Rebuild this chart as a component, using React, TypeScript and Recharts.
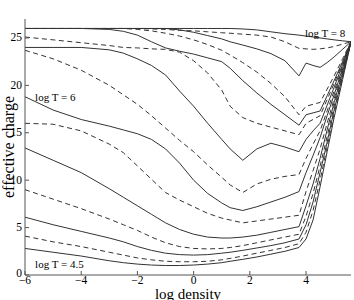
import { LineChart, Line, XAxis, YAxis, ReferenceDot } from 'recharts';

const FONT = '"Liberation Serif", "Times New Roman", serif';
const INK = '#333';
const FRAME = '#555';

// log density sample points
const logDensity = [-6, -5, -4, -3, -2.5, -2, -1.5, -1, -0.5, 0, 0.5, 1, 1.3, 1.75, 2.25, 2.75, 3.25, 3.75, 4, 4.25, 4.5, 4.75, 5, 5.3, 5.6];

// effective charge for each log T
const t45 = [2.8, 2.4, 2.0, 1.5, 1.3, 1.15, 1.05, 1.0, 1.0, 1.05, 1.15, 1.3, 1.45, 1.65, 1.9, 2.2, 2.5, 2.9, 3.8, 5.8, 9.3, 13.0, 16.6, 20.6, 24.6];
const t475 = [4.1, 3.5, 3.0, 2.4, 2.1, 1.8, 1.6, 1.45, 1.4, 1.4, 1.45, 1.6, 1.75, 2.0, 2.3, 2.6, 2.9, 3.3, 4.5, 6.8, 10.0, 13.5, 17.0, 20.8, 24.6];
const t50 = [6.1, 5.3, 4.6, 3.9, 3.5, 3.0, 2.6, 2.3, 2.15, 2.1, 2.15, 2.3, 2.4, 2.6, 2.85, 3.1, 3.4, 3.8, 5.3, 7.7, 10.8, 14.0, 17.4, 21.0, 24.6];
const t525 = [9.0, 8.0, 7.0, 5.9, 5.3, 4.7, 4.0, 3.4, 3.0, 2.8, 2.75, 2.8, 2.9, 3.1, 3.4, 3.7, 4.0, 4.3, 6.2, 8.6, 11.5, 14.6, 17.8, 21.2, 24.6];
const t55 = [13.4, 12.1, 10.8, 9.1, 8.2, 7.3, 6.4, 5.5, 4.8, 4.3, 4.0, 3.9, 3.9, 4.0, 4.2, 4.5, 4.8, 5.1, 7.3, 9.6, 12.3, 15.3, 18.2, 21.4, 24.6];
const t575 = [16.0, 15.9, 15.2, 13.8, 12.9, 11.5, 10.1, 8.7, 7.9, 7.2, 6.5, 6.0, 5.8, 5.5, 5.7, 5.9, 6.1, 6.3, 8.8, 11.0, 13.3, 16.0, 18.6, 21.6, 24.6];
const t60 = [18.8, 17.4, 16.4, 15.7, 15.3, 14.9, 14.3, 13.3, 11.8, 10.0, 8.6, 7.6, 7.1, 6.8, 7.2, 7.7, 8.2, 8.8, 10.8, 12.6, 14.5, 16.8, 19.0, 21.8, 24.6];
const t625 = [23.7, 22.8, 21.6, 20.0, 19.0, 18.0, 16.8, 15.5, 14.2, 13.0, 11.6, 10.3, 9.5, 8.7, 9.6, 10.1, 10.4, 10.6, 12.3, 13.8, 15.2, 17.3, 19.4, 22.0, 24.6];
const t65 = [24.0, 24.0, 24.0, 23.75, 23.4, 22.8, 22.1, 21.1, 19.4, 17.8, 16.0, 14.3, 13.3, 12.1, 13.3, 13.9, 13.5, 13.0, 14.3, 15.2, 16.0, 17.9, 19.8, 22.2, 24.6];
const t675 = [25.1, 24.8, 24.5, 24.2, 24.0, 23.95, 23.85, 23.8, 23.5, 22.6, 21.3, 19.5, 17.8, 16.6, 16.0, 15.6, 15.2, 14.8, 16.0, 16.4, 16.8, 18.5, 20.2, 22.4, 24.6];
const t70 = [26, 26, 26, 25.9, 25.7, 25.3, 24.6, 23.95, 23.6, 23.3, 22.9, 22.5, 21.8, 20.5, 19.2, 18.0, 16.9, 15.8, 16.9, 17.1, 17.3, 18.9, 20.5, 22.5, 24.6];
const t725 = [26, 26, 26, 26, 26, 25.9, 25.75, 25.5, 25.2, 24.8, 24.3, 23.7, 23.2, 22.4, 21.4, 20.2, 18.8, 16.9, 17.8, 18.0, 18.2, 19.6, 21.0, 22.8, 24.6];
const t75 = [26, 26, 26, 26, 26, 26, 26, 26, 25.85, 25.6, 25.25, 24.9, 24.6, 24.25, 23.85, 23.35, 22.6, 21.0, 22.35, 22.1, 21.9, 22.4, 23.0, 23.8, 24.6];
const t775 = [26, 26, 26, 26, 26, 26, 25.95, 25.9, 25.8, 25.75, 25.65, 25.55, 25.5, 25.4, 25.3, 25.1, 24.6, 23.9, 23.85, 23.8, 23.85, 23.95, 24.1, 24.35, 24.6];
const t80 = [26, 26, 26, 26, 26, 26, 26, 26, 26, 26, 26, 26, 26, 25.95, 25.85, 25.65, 25.45, 25.3, 25.2, 25.1, 25.0, 24.9, 24.8, 24.7, 24.6];

const series = [
  { key: 't45', values: t45, dashed: false },
  { key: 't475', values: t475, dashed: true },
  { key: 't50', values: t50, dashed: false },
  { key: 't525', values: t525, dashed: true },
  { key: 't55', values: t55, dashed: false },
  { key: 't575', values: t575, dashed: true },
  { key: 't60', values: t60, dashed: false },
  { key: 't625', values: t625, dashed: true },
  { key: 't65', values: t65, dashed: false },
  { key: 't675', values: t675, dashed: true },
  { key: 't70', values: t70, dashed: false },
  { key: 't725', values: t725, dashed: true },
  { key: 't75', values: t75, dashed: false },
  { key: 't775', values: t775, dashed: true },
  { key: 't80', values: t80, dashed: false },
];

const xTicks = [-6, -4, -2, 0, 2, 4];
const yTicks = [0, 5, 10, 15, 20, 25];

const data = logDensity.map((x, i) => {
  const row: any = { x };
  series.forEach((s) => (row[s.key] = s.values[i]));
  return row;
});

const fmt = (v: number) => (v < 0 ? '\u2212' + Math.abs(v) : String(v));

const BottomTick = ({ x, y, payload }: any) => (
  <g>
    <line x1={x} x2={x} y1={y} y2={y - 4} stroke={FRAME} />
    <text x={x} y={y + 9} textAnchor="middle" fontSize={11.5} fontFamily={FONT} fill="#000">
      {fmt(payload.value)}
    </text>
  </g>
);

const TopTick = ({ x, y }: any) => <line x1={x} x2={x} y1={y} y2={y + 4} stroke={FRAME} />;

const LeftTick = ({ x, y, payload }: any) => (
  <g>
    <line x1={x} x2={x + 4} y1={y} y2={y} stroke={FRAME} />
    <text x={x - 3} y={y + (payload.value === 0 ? 1.5 : 3.5)} textAnchor="end" fontSize={11.5} fontFamily={FONT} fill="#000">
      {payload.value}
    </text>
  </g>
);

const RightTick = ({ x, y }: any) => <line x1={x} x2={x - 4} y1={y} y2={y} stroke={FRAME} />;

const XTitle = ({ viewBox }: any) => (
  <text x={viewBox.x + viewBox.width / 2} y={298.5} textAnchor="middle" fontSize={15} fontFamily={FONT} fill="#000">
    log density
  </text>
);

const YTitle = ({ viewBox }: any) => {
  const cy = viewBox.y + viewBox.height / 2;
  return (
    <text x={14} y={cy} transform={`rotate(-90 14 ${cy})`} textAnchor="middle" fontSize={16} fontFamily={FONT} fill="#000">
      effective charge
    </text>
  );
};

const curveLabel = (text: string) => ({ viewBox }: any) => (
  <text x={viewBox.x} y={viewBox.y} fontSize={11} fontFamily={FONT} fill="#000">
    {text}
  </text>
);

export default function App() {
  return (
    <div style={{ width: 354, height: 300, background: '#fff' }}>
      <style>{'body{margin:0}'}</style>
      <LineChart width={354} height={300} data={data} margin={{ top: 19, right: 3, bottom: 0, left: 0 }}>
        <XAxis
          dataKey="x"
          type="number"
          domain={[-6, 5.6]}
          allowDataOverflow
          ticks={xTicks}
          height={25}
          tickSize={0}
          tickMargin={0}
          tickLine={false}
          tick={BottomTick}
          axisLine={{ stroke: FRAME }}
          label={XTitle}
        />
        <XAxis
          xAxisId="top"
          orientation="top"
          dataKey="x"
          type="number"
          domain={[-6, 5.6]}
          allowDataOverflow
          ticks={xTicks}
          height={0}
          tickSize={0}
          tickMargin={0}
          tickLine={false}
          tick={TopTick}
          axisLine={{ stroke: FRAME }}
        />
        <YAxis
          type="number"
          domain={[0, 27]}
          allowDataOverflow
          ticks={yTicks}
          width={25}
          tickSize={0}
          tickMargin={0}
          tickLine={false}
          tick={LeftTick}
          axisLine={{ stroke: FRAME }}
          label={YTitle}
        />
        <YAxis
          yAxisId="right"
          orientation="right"
          type="number"
          domain={[0, 27]}
          allowDataOverflow
          ticks={yTicks}
          width={0}
          tickSize={0}
          tickMargin={0}
          tickLine={false}
          tick={RightTick}
          axisLine={{ stroke: FRAME }}
        />
        {series.map((s) => (
          <Line
            key={s.key}
            dataKey={s.key}
            type="linear"
            stroke={INK}
            strokeWidth={1}
            strokeDasharray={s.dashed ? '5 3.5' : undefined}
            dot={false}
            activeDot={false}
            isAnimationActive={false}
          />
        ))}
        <ReferenceDot x={3.96} y={25.13} r={0} fill="none" stroke="none" label={curveLabel('log T = 8')} />
        <ReferenceDot x={-5.64} y={18.37} r={0} fill="none" stroke="none" label={curveLabel('log T = 6')} />
        <ReferenceDot x={-5.64} y={0.74} r={0} fill="none" stroke="none" label={curveLabel('log T = 4.5')} />
      </LineChart>
    </div>
  );
}
